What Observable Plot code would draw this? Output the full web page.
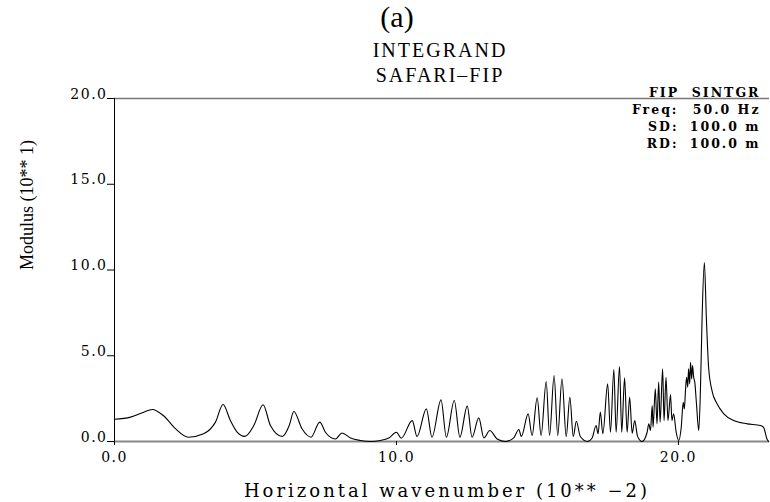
<!DOCTYPE html>
<html>
<head>
<meta charset="utf-8">
<script src="https://cdn.jsdelivr.net/npm/d3@7"></script>
<script src="https://cdn.jsdelivr.net/npm/@observablehq/plot@0.6"></script>
<style>
  html, body { margin: 0; padding: 0; background: #fff; }
</style>
</head>
<body>
<div id="chart"></div>
<script>
// Horizontal wavenumber (units of 10**-2) and integrand modulus (units of 10**1)
const wavenumber = [
  0.00, 0.57, 1.04, 1.34, 1.74, 2.16, 2.62, 3.16, 3.58, 3.85,
  4.11, 4.35, 4.62, 4.94, 5.27, 5.53, 5.95, 6.20, 6.36, 6.65,
  6.97, 7.28, 7.48, 7.84, 8.07, 8.37, 8.72, 9.08, 9.43, 9.73,
  10.00, 10.17, 10.56, 10.73, 11.06, 11.26, 11.58, 11.77, 12.05, 12.25,
  12.51, 12.68, 12.92, 13.10, 13.31, 13.57, 13.87, 14.16, 14.34, 14.43,
  14.67, 14.81, 14.99, 15.13, 15.31, 15.43, 15.59, 15.72, 15.87, 16.02,
  16.15, 16.27, 16.38, 16.52, 16.78, 16.94, 17.08, 17.15, 17.23, 17.32,
  17.49, 17.59, 17.71, 17.79, 17.91, 17.99, 18.09, 18.18, 18.27, 18.36,
  18.45, 18.55, 18.71, 18.89, 18.95, 19.01, 19.07, 19.10, 19.18, 19.24,
  19.30, 19.35, 19.44, 19.49, 19.56, 19.63, 19.72, 19.77, 19.83, 19.92,
  20.01, 20.10, 20.17, 20.21, 20.25, 20.29, 20.33, 20.36, 20.40, 20.43,
  20.47, 20.50, 20.54, 20.58, 20.64, 20.72, 20.78, 20.84, 20.92, 20.99,
  21.07, 21.19, 21.37, 21.61, 21.96, 22.44, 22.91, 23.02, 23.14, 23.20
];
const modulus = [
  1.30, 1.42, 1.71, 1.87, 1.50, 0.75, 0.25, 0.45, 1.13, 2.16,
  1.22, 0.55, 0.30, 0.93, 2.14, 0.93, 0.29, 0.95, 1.75, 0.74,
  0.25, 1.13, 0.54, 0.15, 0.50, 0.21, 0.06, 0.00, 0.06, 0.21,
  0.54, 0.19, 1.22, 0.29, 1.90, 0.25, 2.43, 0.25, 2.39, 0.25,
  2.06, 0.25, 1.38, 0.21, 0.64, 0.15, 0.00, 0.21, 0.70, 0.29,
  1.61, 0.35, 2.55, 0.35, 3.50, 0.35, 3.85, 0.35, 3.66, 0.29,
  2.58, 0.29, 1.18, 0.29, 0.00, 0.20, 0.93, 0.45, 1.71, 0.45,
  3.36, 0.54, 4.20, 0.54, 4.37, 0.54, 3.71, 0.54, 2.58, 0.48,
  1.22, 0.30, 0.00, 0.54, 1.03, 0.64, 2.10, 0.83, 3.07, 1.03,
  3.46, 1.13, 4.24, 1.22, 3.75, 1.22, 2.74, 1.22, 1.61, 0.54,
  0.06, 0.83, 2.29, 1.90, 2.97, 3.75, 3.17, 4.24, 3.36, 4.62,
  3.65, 4.43, 3.75, 3.46, 2.20, 0.64, 2.97, 7.25, 10.44, 7.25,
  4.33, 2.97, 2.20, 1.61, 1.22, 1.03, 0.93, 0.83, 0.15, 0.00
];

// Axis ticks and text
const xTicks = [0, 10, 20];
const yTicks = [0, 5, 10, 15, 20];
const caseLabel = ["(a)"];
const titleLine1 = ["INTEGRAND"];
const titleLine2 = ["SAFARI\u2013FIP"];
const runLabel = ["FIP  SINTGR"];
const paramKeys = ["Freq:", "SD:", "RD:"];
const paramValues = ["50.0 Hz", "100.0 m", "100.0 m"];
const xLabel = ["Horizontal wavenumber (10** \u22122)"];
const yLabel = ["Modulus (10** 1)"];

const data = wavenumber.map((k, i) => ({k, m: modulus[i]}));
const fmt = d3.format(".1f");
const paramText = {
  frameAnchor: "top-right", lineAnchor: "top", lineHeight: 1.34,
  textAnchor: "end", fontSize: 12.5, fontWeight: "bold"
};

const chart = Plot.plot({
  width: 770,
  height: 502,
  marginLeft: 114,
  marginRight: 1,
  marginTop: 98,
  marginBottom: 61,
  x: {domain: [0, 23.23], axis: null},
  y: {domain: [0, 20], axis: null},
  style: {fontFamily: "DejaVu Serif", fontSize: "14px", color: "black", background: "white", overflow: "visible"},
  marks: [
    Plot.ruleY([20], {stroke: "#777", strokeWidth: 1.5}),
    Plot.ruleY([0], {stroke: "#888", strokeWidth: 2}),
    Plot.ruleX([0], {stroke: "black", strokeWidth: 1}),
    Plot.axisY({ticks: yTicks, tickFormat: fmt, tickSize: 7, tickPadding: 0, lineAnchor: "bottom", label: null}),
    Plot.axisX({ticks: xTicks, tickFormat: fmt, tickSize: 4, tickPadding: 7, label: null}),
    Plot.line(data, {x: "k", y: "m", curve: "monotone-x", stroke: "black", strokeWidth: 1.1}),
    Plot.text(caseLabel, {frameAnchor: "top", dx: -45, dy: -72, lineAnchor: "bottom", fontFamily: "Liberation Serif", fontSize: 30}),
    Plot.text(titleLine1, {frameAnchor: "top", dx: -2, dy: -42, lineAnchor: "bottom", fontFamily: "Liberation Serif", fontSize: 20}),
    Plot.text(titleLine2, {frameAnchor: "top", dx: -2, dy: -17, lineAnchor: "bottom", fontFamily: "Liberation Serif", fontSize: 20}),
    Plot.text(runLabel, {...paramText, lineAnchor: "bottom", dx: -9, dy: -2}),
    Plot.text([paramKeys.join("\n")], {...paramText, dx: -91, dy: 4}),
    Plot.text([paramValues.join("\n")], {...paramText, dx: -9, dy: 4}),
    Plot.text(xLabel, {frameAnchor: "bottom", dx: 5, dy: 55, lineAnchor: "bottom", fontSize: 18}),
    Plot.text(yLabel, {frameAnchor: "left", dx: -87, rotate: -90, fontFamily: "Liberation Serif", fontSize: 18})
  ]
});

// Widen the lettering to the plotter's spacing
const spacing = [
  [t => /^\d+\.\d$/.test(t), "1.5px"],
  [t => t === titleLine1[0] || t === titleLine2[0], "2px"],
  [t => t === runLabel[0] || t.startsWith(paramKeys[0]) || t.startsWith(paramValues[0]), "2px"],
  [t => t === xLabel[0], "3px"]
];
d3.select(chart).selectAll("text").each(function() {
  const t = this.textContent;
  const rule = spacing.find(([test]) => test(t));
  if (rule) d3.select(this).style("letter-spacing", rule[1]);
});

document.getElementById("chart").appendChild(chart);
</script>
</body>
</html>
